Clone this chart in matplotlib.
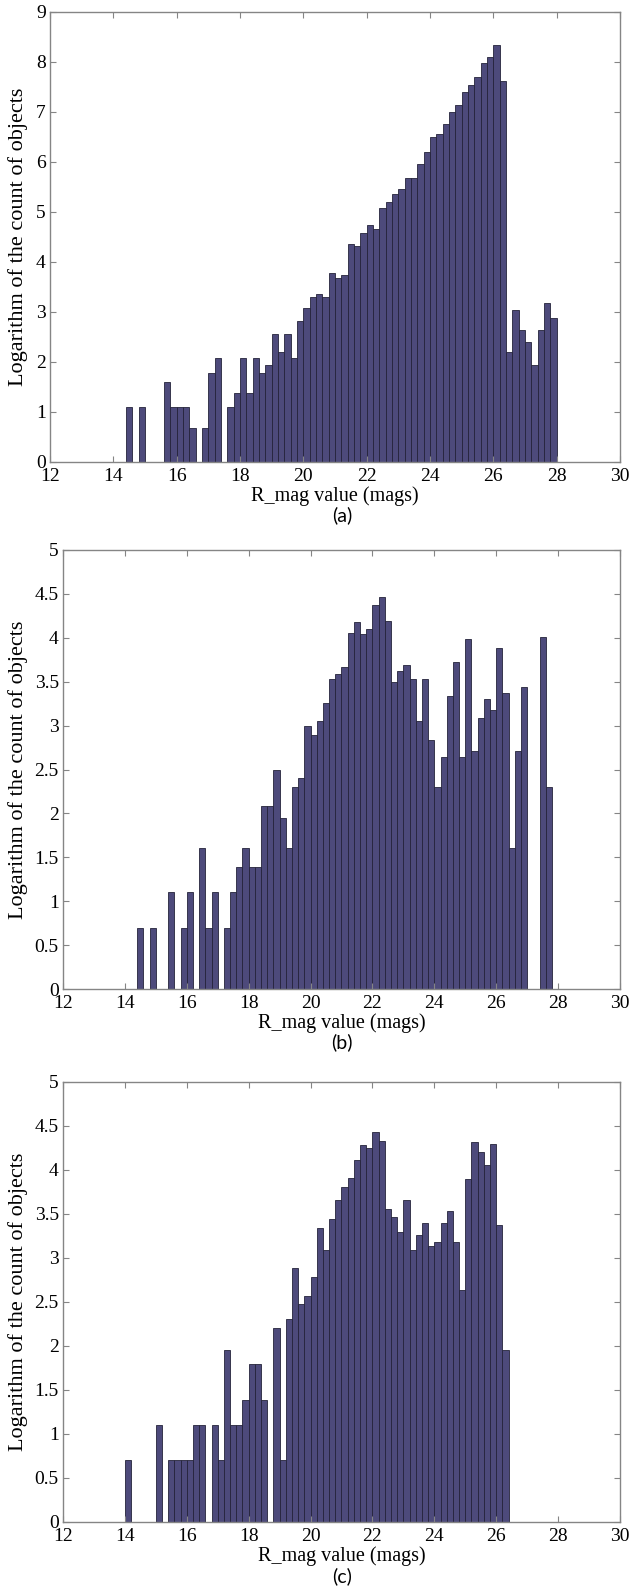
import matplotlib.pyplot as plt
import numpy as np
from matplotlib.ticker import MultipleLocator, FormatStrFormatter

plt.rcParams['font.family'] = ['Liberation Serif', 'DejaVu Serif']

# bins of 0.2 mag, left edges from 14.0 to 27.8 (5 bins per magnitude)
bin_start = 14.0
bin_width = 0.2

# log of counts, panel (a)
log_count_a = [
    0, 0, 1.10, 0, 1.10,           # 14
    0, 0, 0, 1.61, 1.10,           # 15
    1.10, 1.10, 0.69, 0, 0.69,     # 16
    1.79, 2.08, 0, 1.10, 1.39,     # 17
    2.08, 1.39, 2.08, 1.79, 1.95,  # 18
    2.56, 2.20, 2.56, 2.08, 2.83,  # 19
    3.09, 3.30, 3.37, 3.30, 3.78,  # 20
    3.69, 3.74, 4.36, 4.32, 4.58,  # 21
    4.73, 4.66, 5.09, 5.21, 5.36,  # 22
    5.46, 5.68, 5.69, 5.97, 6.21,  # 23
    6.50, 6.56, 6.76, 7.00, 7.14,  # 24
    7.41, 7.55, 7.70, 7.98, 8.11,  # 25
    8.35, 7.62, 2.20, 3.04, 2.64,  # 26
    2.40, 1.95, 2.64, 3.18, 2.89,  # 27
]

# panel (b)
log_count_b = [
    0, 0, 0.69, 0, 0.69,           # 14
    0, 0, 1.10, 0, 0.69,           # 15
    1.10, 0, 1.61, 0.69, 1.10,     # 16
    0, 0.69, 1.10, 1.39, 1.61,     # 17
    1.39, 1.39, 2.08, 2.08, 2.49,  # 18
    1.95, 1.61, 2.30, 2.40, 3.00,  # 19
    2.89, 3.05, 3.26, 3.53, 3.59,  # 20
    3.67, 4.06, 4.18, 4.04, 4.10,  # 21
    4.37, 4.46, 4.19, 3.50, 3.62,  # 22
    3.69, 3.53, 3.05, 3.53, 2.84,  # 23
    2.30, 2.64, 3.34, 3.72, 2.64,  # 24
    3.99, 2.71, 3.09, 3.30, 3.18,  # 25
    3.88, 3.37, 1.61, 2.71, 3.44,  # 26
    0, 0, 4.01, 2.30, 0,           # 27
]

# panel (c)
log_count_c = [
    0.70, 0, 0, 0, 0,              # 14
    1.10, 0, 0.70, 0.70, 0.70,     # 15
    0.70, 1.10, 1.10, 0, 1.10,     # 16
    0.70, 1.95, 1.10, 1.10, 1.39,  # 17
    1.80, 1.80, 1.39, 0, 2.20,     # 18
    0.70, 2.31, 2.89, 2.48, 2.57,  # 19
    2.78, 3.34, 3.09, 3.44, 3.66,  # 20
    3.81, 3.91, 4.11, 4.28, 4.25,  # 21
    4.43, 4.33, 3.56, 3.47, 3.30,  # 22
    3.66, 3.09, 3.26, 3.40, 3.14,  # 23
    3.18, 3.40, 3.53, 3.18, 2.64,  # 24
    3.90, 4.32, 4.20, 4.06, 4.29,  # 25
    3.37, 1.95, 0, 0, 0,           # 26
    0, 0, 0, 0, 0,                 # 27
]

panel_data = [log_count_a, log_count_b, log_count_c]
panel_names = ['(a)', '(b)', '(c)']
y_max = [9, 5, 5]
y_step = [1, 0.5, 0.5]

W, H = 633, 1595
fig = plt.figure(figsize=(W / 100, H / 100), dpi=100)

# axes boxes in pixels: left, right, top, bottom
boxes = [(50, 620, 12, 462), (63, 620, 550, 989), (63, 620, 1082, 1522)]
caption_y = [515, 1042, 1576]

bar_color = '#4d4a7b'
spine_color = '#858585'

for data, name, ym, ys, box, cy in zip(panel_data, panel_names, y_max, y_step, boxes, caption_y):
    l, r, t, b = box
    ax = fig.add_axes([l / W, (H - b) / H, (r - l) / W, (b - t) / H])
    edges = bin_start + bin_width * np.arange(len(data))
    ax.bar(edges, data, width=bin_width, align='edge', color=bar_color,
           edgecolor='#24233a', linewidth=0.6)
    ax.set_xlim(12, 30)
    ax.set_ylim(0, ym)
    ax.xaxis.set_major_locator(MultipleLocator(2))
    ax.yaxis.set_major_locator(MultipleLocator(ys))
    ax.yaxis.set_major_formatter(FormatStrFormatter('%g'))
    ax.tick_params(direction='in', top=True, right=True, length=4, width=0.8,
                   color=spine_color, labelsize=14)
    ax.tick_params(axis='x', pad=4)
    ax.tick_params(axis='y', pad=3)
    for s in ax.spines.values():
        s.set_color(spine_color)
        s.set_linewidth(1.0)
    ax.set_xlabel('R_mag value (mags)', fontsize=14.5, va='center')
    ax.xaxis.set_label_coords((l + r) / 2 / W, 1 - (b + 34) / H, transform=fig.transFigure)
    ax.set_ylabel('Logarithm of the count of objects', fontsize=16, va='center')
    ax.yaxis.set_label_coords(18 / W, 1 - (t + b) / 2 / H, transform=fig.transFigure)
    fig.text(342 / W, 1 - cy / H, name, ha='center', va='center',
             fontsize=14, family=['Lato', 'DejaVu Sans'])

fig.savefig('out.png', dpi=100)
